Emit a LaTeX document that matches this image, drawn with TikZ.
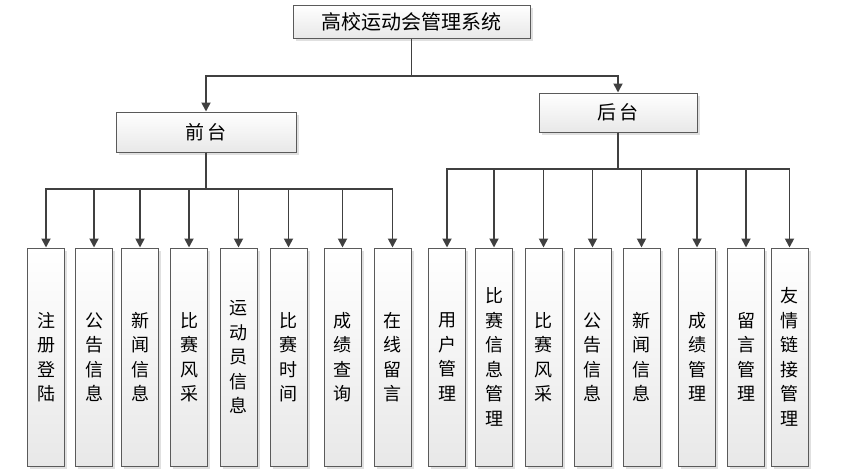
\documentclass[tikz,border=0pt]{standalone}
\usepackage{fontspec}
\setmainfont{Noto Sans CJK SC}
\usetikzlibrary{arrows.meta,shadows}
\definecolor{boxline}{HTML}{5A5A5A}
\definecolor{linkline}{HTML}{404040}

\begin{document}
\begin{tikzpicture}[x=1pt,y=-1pt,
  box/.style={draw=boxline,line width=1pt,top color=white,bottom color=black!9,inner sep=0pt,
    drop shadow={shadow xshift=2.5pt,shadow yshift=-2.5pt,fill=black!20,opacity=.6}},
  root node/.style={box,minimum width=237pt,minimum height=33pt,font=\fontsize{20pt}{24pt}\selectfont},
  part node/.style={box,minimum height=40pt,font=\fontsize{19pt}{24pt}\selectfont},
  leaf node/.style={box,minimum width=37pt,minimum height=218pt,align=center,font=\fontsize{18pt}{24.5pt}\selectfont},
  link/.style={draw=linkline,line width=1.8pt,-{Triangle[length=9pt,width=9pt]}}]

  \useasboundingbox (0,0) rectangle (851,472);

  % top levels
  \node[root node] (sys) at (411.5,21.5) {高校运动会管理系统};
  \node[part node,minimum width=180pt] (front) at (206,132) {前\hspace{3pt}台};
  \node[part node,minimum width=158pt,minimum height=39pt] (back) at (618,112.5) {后\hspace{3pt}台};

  % bus lines
  \coordinate (tbus) at (0,76);
  \coordinate (fbus) at (0,189);
  \coordinate (bbus) at (0,169);

  % front leaves
  \node[leaf node] (f1) at (46,357) {注\\册\\登\\陆};
  \node[leaf node] (f2) at (94,357) {公\\告\\信\\息};
  \node[leaf node] (f3) at (140,357) {新\\闻\\信\\息};
  \node[leaf node] (f4) at (189,357) {比\\赛\\风\\采};
  \node[leaf node] (f5) at (238.5,357) {运\\动\\员\\信\\息};
  \node[leaf node] (f6) at (288.5,357) {比\\赛\\时\\间};
  \node[leaf node] (f7) at (342.5,357) {成\\绩\\查\\询};
  \node[leaf node] (f8) at (392.5,357) {在\\线\\留\\言};

  % back leaves
  \node[leaf node] (b1) at (447,357) {用\\户\\管\\理};
  \node[leaf node] (b2) at (494,357) {比\\赛\\信\\息\\管\\理};
  \node[leaf node] (b3) at (543.5,357) {比\\赛\\风\\采};
  \node[leaf node] (b4) at (592.5,357) {公\\告\\信\\息};
  \node[leaf node] (b5) at (641.5,357) {新\\闻\\信\\息};
  \node[leaf node] (b6) at (697,357) {成\\绩\\管\\理};
  \node[leaf node] (b7) at (746,357) {留\\言\\管\\理};
  \node[leaf node] (b8) at (789.5,357) {友\\情\\链\\接\\管\\理};

  % connectors
  \draw[link] (sys.south) |- (tbus -| front.north) -- (front.north);
  \draw[link] (sys.south) |- (tbus -| back.north) -- (back.north);

  \draw[link] (front.south) |- (fbus -| f1.north) -- (f1.north);
  \draw[link] (front.south) |- (fbus -| f2.north) -- (f2.north);
  \draw[link] (front.south) |- (fbus -| f3.north) -- (f3.north);
  \draw[link] (front.south) |- (fbus -| f4.north) -- (f4.north);
  \draw[link] (front.south) |- (fbus -| f5.north) -- (f5.north);
  \draw[link] (front.south) |- (fbus -| f6.north) -- (f6.north);
  \draw[link] (front.south) |- (fbus -| f7.north) -- (f7.north);
  \draw[link] (front.south) |- (fbus -| f8.north) -- (f8.north);

  \draw[link] (back.south) |- (bbus -| b1.north) -- (b1.north);
  \draw[link] (back.south) |- (bbus -| b2.north) -- (b2.north);
  \draw[link] (back.south) |- (bbus -| b3.north) -- (b3.north);
  \draw[link] (back.south) |- (bbus -| b4.north) -- (b4.north);
  \draw[link] (back.south) |- (bbus -| b5.north) -- (b5.north);
  \draw[link] (back.south) |- (bbus -| b6.north) -- (b6.north);
  \draw[link] (back.south) |- (bbus -| b7.north) -- (b7.north);
  \draw[link] (back.south) |- (bbus -| b8.north) -- (b8.north);
\end{tikzpicture}
\end{document}
